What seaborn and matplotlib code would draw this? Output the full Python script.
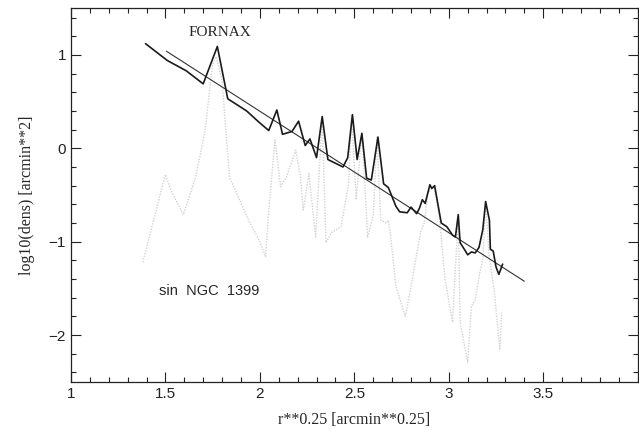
import numpy as np
import pandas as pd
import seaborn as sns
import matplotlib
matplotlib.use("Agg")
import matplotlib.pyplot as plt
from matplotlib.ticker import MultipleLocator

# --- data ---
obs_x = [1.395, 1.51, 1.61, 1.70, 1.775, 1.83, 1.93, 1.995, 2.047, 2.09, 2.12, 2.17,
         2.205, 2.24, 2.265, 2.30, 2.33, 2.36, 2.40, 2.44, 2.465, 2.49, 2.515, 2.54,
         2.565, 2.59, 2.625, 2.655, 2.68, 2.72, 2.74, 2.78, 2.80, 2.83, 2.845, 2.86,
         2.875, 2.90, 2.91, 2.925, 2.96, 2.99, 3.02, 3.035, 3.05, 3.06, 3.085, 3.10,
         3.12, 3.14, 3.16, 3.18, 3.195, 3.215, 3.22, 3.235, 3.25, 3.265, 3.285]
obs_y = [1.12, 0.94, 0.83, 0.69, 1.09, 0.53, 0.40, 0.28, 0.19, 0.41, 0.15, 0.18,
         0.29, 0.03, 0.10, -0.10, 0.34, -0.12, -0.16, -0.20, -0.10, 0.36, -0.12, 0.16,
         -0.32, -0.34, 0.12, -0.38, -0.42, -0.62, -0.68, -0.69, -0.63, -0.70, -0.64, -0.55,
         -0.59, -0.39, -0.43, -0.40, -0.80, -0.84, -0.93, -0.95, -0.71, -1.01, -1.09, -1.14,
         -1.11, -1.12, -1.06, -0.87, -0.57, -0.77, -1.08, -1.10, -1.27, -1.35, -1.24]

sub_x = [1.38, 1.50, 1.53, 1.595, 1.66, 1.71, 1.75, 1.77, 1.80, 1.82, 1.84, 1.94,
         2.00, 2.03, 2.05, 2.08, 2.11, 2.14, 2.19, 2.215, 2.23, 2.26, 2.295, 2.33,
         2.35, 2.38, 2.43, 2.47, 2.485, 2.51, 2.54, 2.56, 2.57, 2.60, 2.62, 2.64,
         2.67, 2.68, 2.69, 2.72, 2.77, 2.80, 2.85, 2.87, 2.89, 2.92, 2.95, 2.98,
         3.02, 3.05, 3.06, 3.10, 3.12, 3.14, 3.16, 3.18, 3.195, 3.215, 3.24, 3.27, 3.28]
sub_y = [-1.22, -0.28, -0.45, -0.71, -0.31, 0.19, 0.90, 0.98, 0.72, 0.19, -0.31, -0.77,
         -1.00, -1.16, -0.60, 0.09, -0.41, -0.31, -0.02, -0.31, -0.66, -0.27, -0.95, 0.32,
         -1.01, -0.90, -0.84, -0.37, 0.35, -0.55, 0.16, -0.55, -0.95, -0.73, 0.12, -0.77,
         -0.80, -0.77, -0.90, -1.48, -1.80, -1.48, -0.90, -0.80, -0.48, -0.41, -0.73, -1.40,
         -1.86, -0.73, -1.86, -2.29, -1.69, -1.62, -1.37, -1.19, -0.59, -1.19, -1.51, -2.15, -1.76]

fit_x = [1.505, 3.40]
fit_slope = -1.30
fit_y0 = 1.04  # value at fit_x[0]

x_ticks = [1, 1.5, 2, 2.5, 3, 3.5]
x_ticklabels = ["1", "1.5", "2", "2.5", "3", "3.5"]
y_ticks = [-2, -1, 0, 1]
y_ticklabels = ["\u22122", "\u22121", "0", "1"]

# --- build frames ---
obs = pd.DataFrame({"x": obs_x, "y": obs_y})
sub = pd.DataFrame({"x": sub_x, "y": sub_y})
fx = np.array(fit_x)
fit = pd.DataFrame({"x": fx, "y": fit_y0 + fit_slope * (fx - fit_x[0])})

sns.set_style("ticks")
plt.rcParams["font.family"] = ["Liberation Sans", "DejaVu Sans"]

fig = plt.figure(figsize=(6.39, 4.30), dpi=100)
ax = fig.add_axes([0.111, 0.112, 0.887, 0.869])

sns.lineplot(data=sub, x="x", y="y", ax=ax, sort=False, estimator=None,
             color="#d2d2d2", lw=1.0, linestyle=(0, (1, 1)))
sns.lineplot(data=fit, x="x", y="y", ax=ax, sort=False, estimator=None,
             color="#333333", lw=0.8)
sns.lineplot(data=obs, x="x", y="y", ax=ax, sort=False, estimator=None,
             color="#1a1a1a", lw=1.2)

ax.set_xlim(1, 4)
ax.set_ylim(-2.5, 1.5)
ax.set_xticks(x_ticks)
ax.set_xticklabels(x_ticklabels)
ax.set_yticks(y_ticks)
ax.set_yticklabels(y_ticklabels)
ax.xaxis.set_minor_locator(MultipleLocator(0.1))
ax.yaxis.set_minor_locator(MultipleLocator(0.2))
ax.tick_params(which="both", direction="in", top=True, right=True, colors="#222222",
               labelsize=11, width=0.8)
ax.tick_params(which="major", length=7)
ax.tick_params(which="minor", length=3.5)
for s in ax.spines.values():
    s.set_linewidth(0.9)
    s.set_color("#222222")
    s.set_visible(True)

ax.set_xlabel("r**0.25 [arcmin**0.25]", fontsize=11.5, family=["Liberation Serif"], labelpad=8)
ax.set_ylabel("log10(dens) [arcmin**2]", fontsize=11.5, family=["Liberation Serif"], labelpad=10)

ax.text(1.79, 1.24, "FORNAX", fontsize=11, family=["Liberation Serif"], ha="center", va="center")
ax.text(1.73, -1.53, "sin  NGC  1399", fontsize=10.5, ha="center", va="center")

fig.savefig("out.png", dpi=100, facecolor="white")
